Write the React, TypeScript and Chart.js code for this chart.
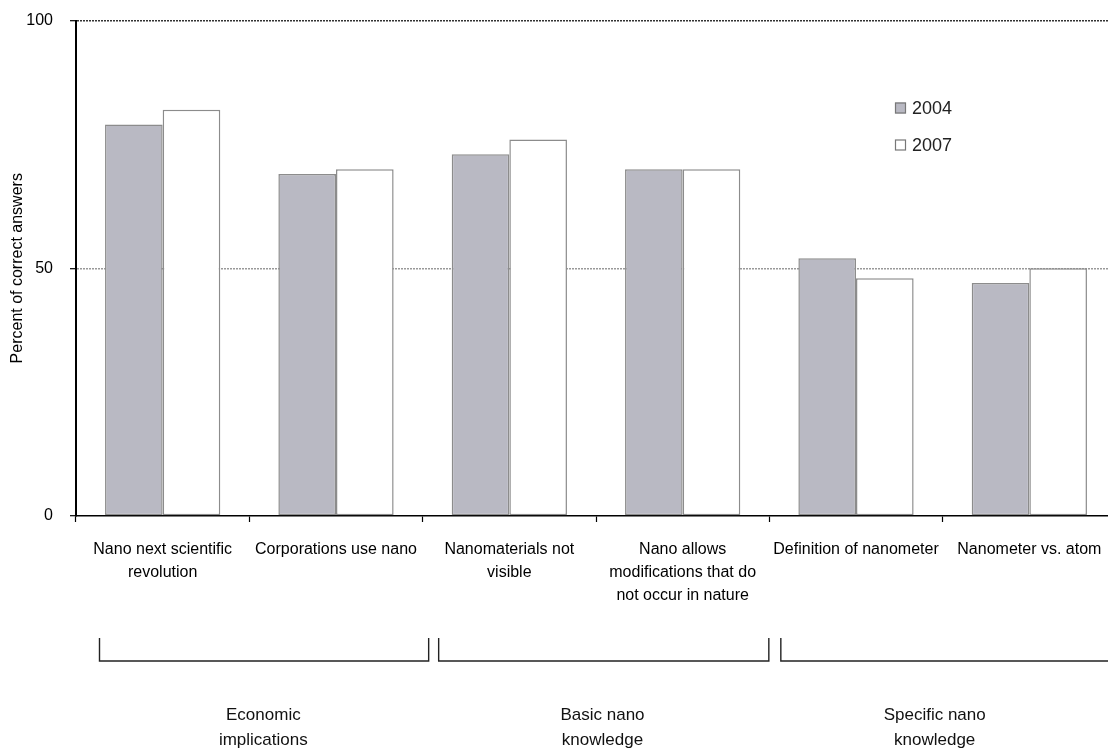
import React, { useEffect, useRef } from "react";
import { Chart, registerables } from "chart.js";

Chart.register(...registerables);

const categories: string[][] = [
  ["Nano next scientific", "revolution"],
  ["Corporations use nano"],
  ["Nanomaterials not", "visible"],
  ["Nano allows", "modifications that do", "not occur in nature"],
  ["Definition of nanometer"],
  ["Nanometer vs. atom"],
];
const seriesNames = ["2004", "2007"];
const values2004 = [79, 69, 73, 70, 52, 47];
const values2007 = [82, 70, 76, 70, 48, 50];
const yTicks = [0, 50, 100];
const groupLabels: string[][] = [
  ["Economic", "implications"],
  ["Basic nano", "knowledge"],
  ["Specific nano", "knowledge"],
];
const groupFirst = [0, 2, 4];
const groupLast = [1, 3, 5];

const FONT = "'Liberation Sans', Arial, sans-serif";
const GRAY = "#b9b9c3";
const EDGE = "#8c8c8c";

// layout constants (styling only)
const BRACKET_INSETS = [
  [23.5, 6],
  [16, -0.5],
  [11.5, 6],
];
const LABEL_SHIFT = [14, 6.5, -8];

const legendPlugin = {
  id: "customLegend",
  afterDraw(chart: any) {
    const { ctx, chartArea } = chart;
    ctx.save();
    chart.data.datasets.forEach((ds: any, i: number) => {
      const bx = chartArea.left + 819;
      const cy = 108 + i * 37;
      ctx.fillStyle = ds.backgroundColor;
      ctx.fillRect(bx, cy - 5.5, 11, 11);
      ctx.strokeStyle = "#777";
      ctx.lineWidth = 1.2;
      ctx.strokeRect(bx + 0.5, cy - 5, 10, 10);
      ctx.fillStyle = "#222";
      ctx.font = `18px ${FONT}`;
      ctx.textBaseline = "middle";
      ctx.textAlign = "left";
      ctx.fillText(ds.label, bx + 17, cy + 1);
    });
    ctx.restore();
  },
};

const groupPlugin = {
  id: "groupBrackets",
  afterDraw(chart: any) {
    const { ctx } = chart;
    const x = chart.scales.x;
    const half = (x.getPixelForValue(1) - x.getPixelForValue(0)) / 2;
    ctx.save();
    ctx.strokeStyle = "#222";
    ctx.lineWidth = 1.4;
    ctx.fillStyle = "#111";
    ctx.font = `17px ${FONT}`;
    ctx.textAlign = "center";
    ctx.textBaseline = "middle";
    groupLabels.forEach((lines, g) => {
      const l = x.getPixelForValue(groupFirst[g]) - half + BRACKET_INSETS[g][0];
      const r = x.getPixelForValue(groupLast[g]) + half + BRACKET_INSETS[g][1];
      ctx.beginPath();
      ctx.moveTo(l, 638);
      ctx.lineTo(l, 661);
      ctx.lineTo(r, 661);
      ctx.lineTo(r, 638);
      ctx.stroke();
      const cx =
        (x.getPixelForValue(groupFirst[g]) + x.getPixelForValue(groupLast[g])) / 2 +
        LABEL_SHIFT[g];
      lines.forEach((t, k) => ctx.fillText(t, cx, 715 + k * 25));
    });
    ctx.restore();
  },
};

export default function App() {
  const ref = useRef<HTMLCanvasElement | null>(null);
  useEffect(() => {
    if (!ref.current) return;
    const chart = new Chart(ref.current, {
      type: "bar",
      data: {
        labels: categories as any,
        datasets: [
          {
            label: seriesNames[0],
            data: values2004,
            backgroundColor: GRAY,
            borderColor: EDGE,
            borderWidth: 1.5,
            borderSkipped: false,
            categoryPercentage: 0.665,
            barPercentage: 1,
          },
          {
            label: seriesNames[1],
            data: values2007,
            backgroundColor: "#ffffff",
            borderColor: EDGE,
            borderWidth: 1.5,
            borderSkipped: false,
            categoryPercentage: 0.665,
            barPercentage: 1,
          },
        ],
      },
      options: {
        responsive: false,
        animation: false,
        layout: { padding: { top: 20.5, right: 9, left: 0, bottom: 0 } },
        plugins: {
          legend: { display: false },
          tooltip: { enabled: false },
        },
        scales: {
          x: {
            afterFit: (s: any) => {
              s.height = 233;
            },
            grid: {
              display: true,
              drawOnChartArea: false,
              drawTicks: true,
              tickLength: 6,
              tickColor: "#000",
              tickWidth: 1.2,
              offset: true,
            },
            border: { display: true, color: "#000", width: 1.5 },
            ticks: {
              autoSkip: false,
              maxRotation: 0,
              minRotation: 0,
              padding: 16,
              color: "#000",
              font: { family: FONT, size: 16, lineHeight: 23 / 16 },
            },
          },
          y: {
            min: 0,
            max: 100,
            afterFit: (s: any) => {
              s.width = 76;
            },
            afterBuildTicks: (s: any) => {
              s.ticks = yTicks.map((v) => ({ value: v }));
            },
            grid: {
              color: (c: any) =>
                c.tick && c.tick.value === 100
                  ? "#333"
                  : c.tick && c.tick.value === 50
                  ? "#999"
                  : "rgba(0,0,0,0)",
              lineWidth: 1.4,
              tickColor: "#000",
              tickLength: 6,
              tickWidth: 1.2,
              tickBorderDash: [],
            },
            border: { display: true, color: "#000", width: 2, dash: [2, 1] },
            ticks: {
              padding: 17,
              color: "#000",
              font: { family: FONT, size: 16, lineHeight: 0.25 },
            },
            title: {
              display: true,
              text: "Percent of correct answers",
              color: "#000",
              font: { family: FONT, size: 16 },
              padding: { top: 8, bottom: 0 },
            },
          },
        },
      },
      plugins: [legendPlugin, groupPlugin],
    });
    return () => chart.destroy();
  }, []);
  return (
    <div
      style={{
        position: "absolute",
        left: 0,
        top: 0,
        width: 1108,
        height: 749,
        overflow: "hidden",
        background: "#fff",
      }}
    >
      <canvas ref={ref} width={1125} height={749} style={{ display: "block" }} />
    </div>
  );
}
